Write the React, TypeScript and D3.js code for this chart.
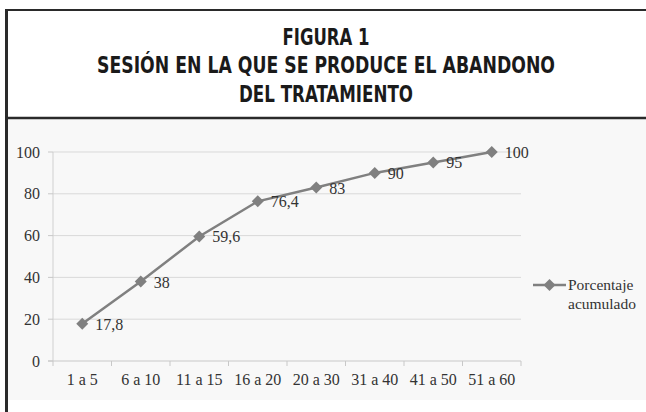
import React from 'react'
import * as d3 from 'd3'

const categories = ['1 a 5', '6 a 10', '11 a 15', '16 a 20', '20 a 30', '31 a 40', '41 a 50', '51 a 60']
const values = [17.8, 38, 59.6, 76.4, 83, 90, 95, 100]
const valueLabels = ['17,8', '38', '59,6', '76,4', '83', '90', '95', '100']
const yTicks = [0, 20, 40, 60, 80, 100]
const titleLines = ['FIGURA 1', 'SESIÓN EN LA QUE SE PRODUCE EL ABANDONO', 'DEL TRATAMIENTO']
const legendLines = ['Porcentaje', 'acumulado']

const WIDTH = 646
const HEIGHT = 412
const MARGIN = { top: 152, right: 125, bottom: 51, left: 53 }
const LINE_COLOR = '#808080'
const SERIF = '"Liberation Serif", "Times New Roman", serif'
const TITLE_FONT = '"DejaVu Sans Condensed", "Liberation Sans Narrow", sans-serif'

function diamond(x: number, y: number, r: number) {
    return `M${x},${y - r}L${x + r},${y}L${x},${y + r}L${x - r},${y}Z`
}

function Chart() {
    const x = d3.scaleBand().domain(categories).range([MARGIN.left, WIDTH - MARGIN.right])
    const y = d3.scaleLinear().domain([0, 100]).range([HEIGHT - MARGIN.bottom, MARGIN.top])
    const cx = (c: string) => (x(c) as number) + x.bandwidth() / 2

    const line = d3.line<number>()
        .x((d, i) => cx(categories[i]))
        .y(d => y(d))

    const boundaries = categories.map(c => x(c) as number).concat([WIDTH - MARGIN.right])
    // measured widths of the three title lines
    const titleWidths = [87, 458, 174]
    const titleBaselines = [45, 73, 102]

    return (
        <svg width={WIDTH} height={HEIGHT} style={{ position: 'absolute', left: 0, top: 0 }}>
            <rect x={0} y={0} width={WIDTH} height={HEIGHT} fill="#ffffff" />
            <rect x={8} y={119} width={WIDTH} height={281} fill="#f8f8f8" />

            {/* frame */}
            <line x1={6.5} y1={9} x2={6.5} y2={HEIGHT} stroke="#2a2a2a" strokeWidth={3} />
            <line x1={5} y1={10} x2={WIDTH} y2={10} stroke="#2a2a2a" strokeWidth={2} />
            <line x1={5} y1={118} x2={WIDTH} y2={118} stroke="#2a2a2a" strokeWidth={2.5} />

            {/* title */}
            {titleLines.map((t, i) => (
                <text key={t} x={326} y={titleBaselines[i]} textAnchor="middle"
                    fontFamily={TITLE_FONT} fontWeight="bold" fontSize={22.5} fill="#1a1a1a"
                    textLength={titleWidths[i]} lengthAdjust="spacingAndGlyphs">{t}</text>
            ))}

            {/* gridlines */}
            {yTicks.filter(t => t > 0).map(t => (
                <line key={t} x1={MARGIN.left} x2={WIDTH - MARGIN.right} y1={y(t)} y2={y(t)}
                    stroke="#d9d9d9" strokeWidth={1} />
            ))}
            {/* axes */}
            <line x1={MARGIN.left} x2={MARGIN.left} y1={y(0)} y2={y(100)} stroke="#d0d0d0" />
            <line x1={MARGIN.left - 5} x2={WIDTH - MARGIN.right} y1={y(0)} y2={y(0)} stroke="#c8c8c8" />
            {yTicks.map(t => (
                <g key={t}>
                    <line x1={MARGIN.left - 5} x2={MARGIN.left} y1={y(t)} y2={y(t)} stroke="#c8c8c8" />
                    <text x={40} y={y(t) + 5.5} textAnchor="end" fontFamily={SERIF} fontSize={16} fill="#333">{t}</text>
                </g>
            ))}
            {boundaries.map((b, i) => (
                <line key={i} x1={b} x2={b} y1={y(0)} y2={y(0) + 5} stroke="#c8c8c8" />
            ))}
            {categories.map(c => (
                <text key={c} x={cx(c)} y={y(0) + 24} textAnchor="middle" fontFamily={SERIF} fontSize={16} fill="#333">{c}</text>
            ))}

            {/* series */}
            <path d={line(values) as string} fill="none" stroke={LINE_COLOR} strokeWidth={2.5} />
            {values.map((v, i) => (
                <path key={i} d={diamond(cx(categories[i]), y(v), 6)} fill={LINE_COLOR} />
            ))}
            {values.map((v, i) => (
                <text key={i} x={cx(categories[i]) + 13} y={y(v) + 6} fontFamily={SERIF} fontSize={16} fill="#333">{valueLabels[i]}</text>
            ))}

            {/* legend */}
            <line x1={533} x2={566} y1={285} y2={285} stroke={LINE_COLOR} strokeWidth={2.5} />
            <path d={diamond(549.5, 285, 6)} fill={LINE_COLOR} />
            {legendLines.map((t, i) => (
                <text key={t} x={568} y={290 + i * 19} fontFamily={SERIF} fontSize={15.5} fill="#333">{t}</text>
            ))}
        </svg>
    )
}

export default function App() {
    return <Chart />
}
